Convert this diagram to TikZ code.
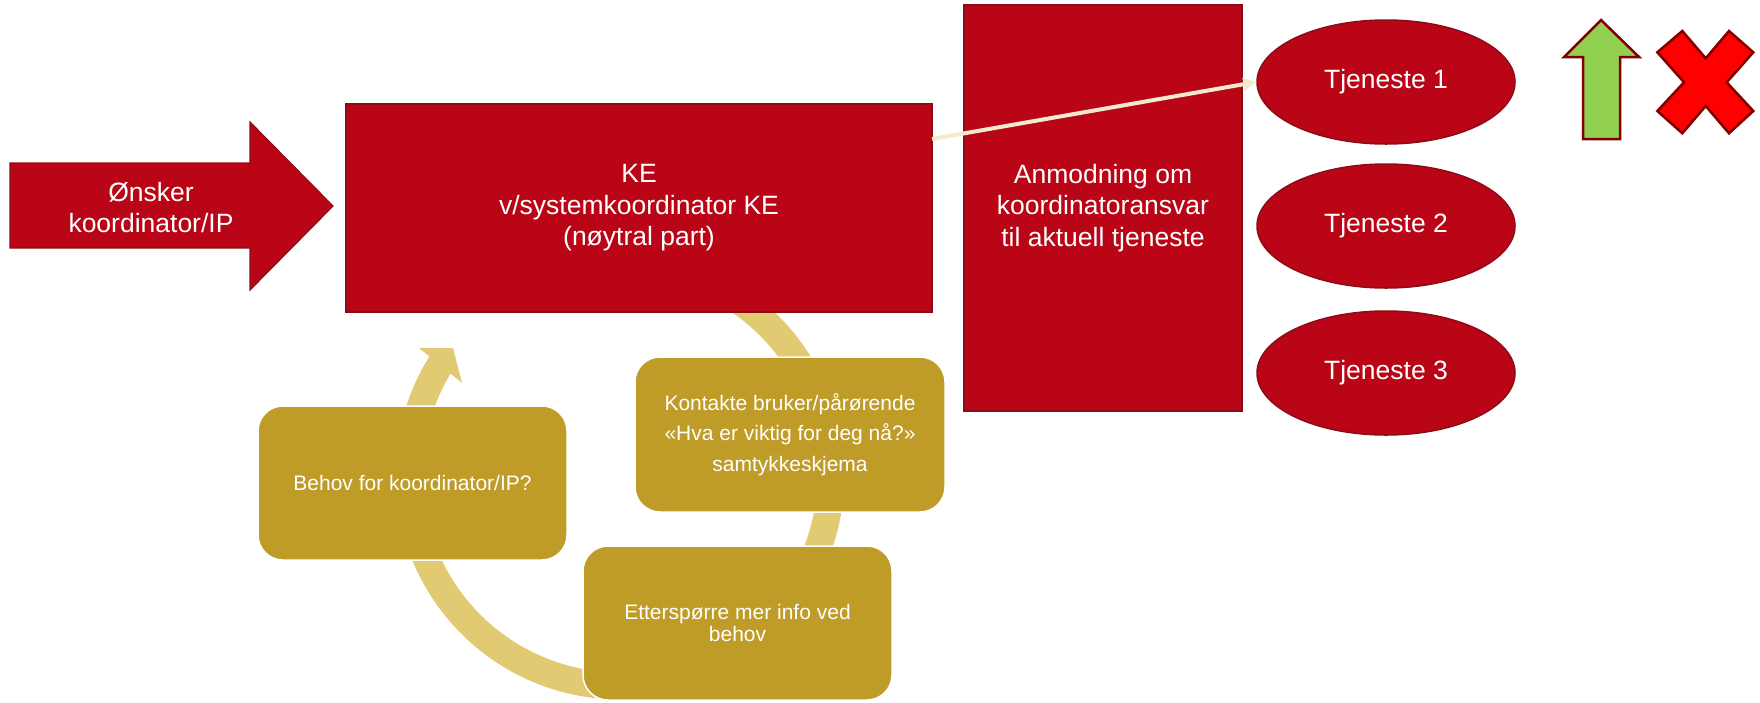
\documentclass[tikz,border=0pt]{standalone}
\usepackage{fontspec}
\setmainfont{Liberation Sans}
\usetikzlibrary{shapes.geometric,arrows.meta}
\definecolor{kred}{RGB}{185,5,22}
\definecolor{kredline}{RGB}{140,12,22}
\definecolor{kgold}{RGB}{191,155,39}
\definecolor{karc}{RGB}{226,202,115}
\definecolor{kcream}{RGB}{243,234,206}
\definecolor{kgreen}{RGB}{146,208,80}
\definecolor{kxred}{RGB}{255,0,0}
\definecolor{kdark}{RGB}{128,0,0}
\begin{document}
\begin{tikzpicture}[x=1pt,y=-1pt,
  redbox/.style={rectangle,fill=kred,draw=kredline,line width=1.2pt,inner sep=0pt,
    text=white,align=center,font=\fontsize{26.5}{31.5}\selectfont},
  redtext/.style={inner sep=0pt,text=white,align=center,font=\fontsize{26.5}{31.5}\selectfont},
  goldbox/.style={rectangle,rounded corners=25pt,fill=kgold,draw=white,line width=1.5pt,
    inner sep=0pt,text=white,align=center,font=\fontsize{21}{30.5}\selectfont},
  tjeneste/.style={ellipse,fill=kred,draw=kredline,line width=1.5pt,inner sep=0pt,
    minimum width=258pt,minimum height=124pt,text=white,font=\fontsize{26.5}{31.5}\selectfont},
  arcband/.style={karc,line width=27pt},
  symbolline/.style={draw=kdark,line width=2.5pt,line join=miter}
]
\useasboundingbox (0,0) rectangle (1760,702);

% cycle arc
\draw[arcband] plot[domain=-100:213,samples=160,smooth] ({620+211*cos(\x)},{475+211*sin(\x)});
\fill[karc] (419,348) -- (453,348) -- (462,383) -- cycle;

% KE box
\node[redbox,minimum width=586pt,minimum height=208pt] (ke) at (639,208)
  {KE\\v/systemkoordinator KE\\(nøytral part)};

% gold boxes
\node[goldbox,minimum width=309pt,minimum height=154pt] (behov) at (412.5,483)
  {Behov for koordinator/IP?};
\node[goldbox,minimum width=310pt,minimum height=155pt] (kontakte) at (790,434.5)
  {Kontakte bruker/pårørende\\«Hva er viktig for deg nå?»\\samtykkeskjema};
\node[goldbox,minimum width=309pt,minimum height=154pt,font=\fontsize{21}{22}\selectfont] (etter) at (737.5,623)
  {Etterspørre mer info ved\\behov};

% big arrow
\filldraw[fill=kred,draw=kredline,line width=1.2pt]
  (10,163) -- (250,163) -- (250,122) -- (333,206) -- (250,290) -- (250,248) -- (10,248) -- cycle;
\node[redtext] (onsker) at (151,207.5) {Ønsker\\koordinator/IP};

% Anmodning box
\node[redbox,minimum width=278pt,minimum height=406pt] (anm) at (1103,208)
  {Anmodning om\\koordinatoransvar\\til aktuell tjeneste};

% Tjeneste ellipses
\node[tjeneste] (t1) at (1386,82) {Tjeneste 1};
\node[tjeneste] (t2) at (1386,226) {Tjeneste 2};
\node[tjeneste] (t3) at (1386,373) {Tjeneste 3};

% connector KE -> Tjeneste 1
\coordinate (kestart) at (932,139);
\draw[kcream,line width=4pt,-{Triangle[length=13pt,width=12pt]}] (kestart) -- (t1.west);

% green arrow
\filldraw[fill=kgreen,symbolline]
  (1601,20) -- (1639,57) -- (1620,57) -- (1620,139) -- (1583,139) -- (1583,57) -- (1564,57) -- cycle;

% red cross
\filldraw[fill=kxred,symbolline]
  (1682.3,31) -- (1705.7,58.3) -- (1729,31) -- (1753.3,52.3) -- (1726.7,82.3) -- (1753.3,111)
  -- (1729,133.3) -- (1705.7,106) -- (1682.3,133.3) -- (1657.3,111) -- (1684,82.3) -- (1657.3,52.3) -- cycle;
\end{tikzpicture}
\end{document}
